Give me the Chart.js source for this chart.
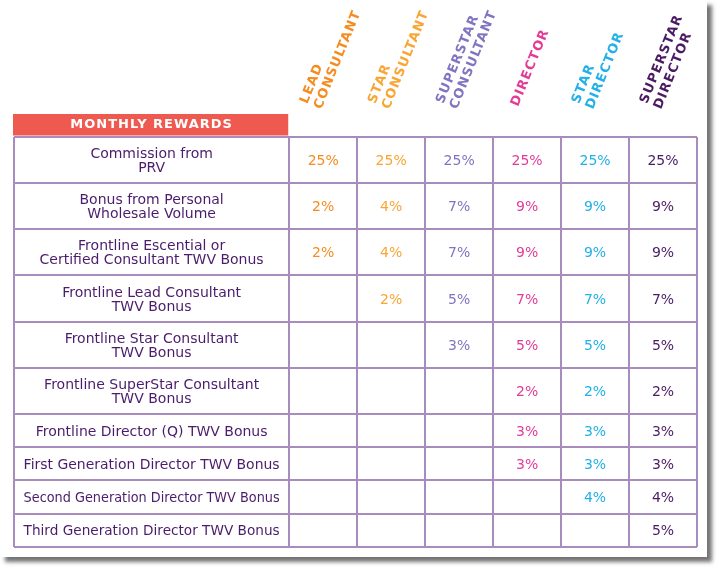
<!DOCTYPE html>
<html>
<head>
<meta charset="utf-8">
<script src="https://cdn.jsdelivr.net/npm/chart.js@4"></script>
<style>
  body { margin: 0; background: #fff; }
  #card { position: absolute; left: 0; top: 0; width: 707px; height: 557px; background: #fff; box-shadow: 5px 5px 4px rgba(0, 0, 0, 0.55); }
  #rewardsChart { position: absolute; left: 0; top: 0; }
</style>
</head>
<body>
<div id="card"></div>
<canvas id="rewardsChart" width="722" height="573"></canvas>
<script>
// Row labels (\n = line break inside the cell)
const rewardRows = [
	'Commission from\nPRV',
	'Bonus from Personal\nWholesale Volume',
	'Frontline Escential or\nCertified Consultant TWV Bonus',
	'Frontline Lead Consultant\nTWV Bonus',
	'Frontline Star Consultant\nTWV Bonus',
	'Frontline SuperStar Consultant\nTWV Bonus',
	'Frontline Director (Q) TWV Bonus',
	'First Generation Director TWV Bonus',
	'Second Generation Director TWV Bonus',
	'Third Generation Director TWV Bonus'
];

// Rank columns
const rankNames = [
	['LEAD', 'CONSULTANT'],
	['STAR', 'CONSULTANT'],
	['SUPERSTAR', 'CONSULTANT'],
	['DIRECTOR'],
	['STAR', 'DIRECTOR'],
	['SUPERSTAR', 'DIRECTOR']
];
const rankColors = ['#f68b1f', '#f9a533', '#8174c0', '#e23c98', '#22b0e6', '#4b1a63'];

// Percent per row, one array per rank (null = empty cell)
const leadConsultant      = [25, 2, 2, null, null, null, null, null, null, null];
const starConsultant      = [25, 4, 4, 2, null, null, null, null, null, null];
const superstarConsultant = [25, 7, 7, 5, 3, null, null, null, null, null];
const director            = [25, 9, 9, 7, 5, 2, 3, 3, null, null];
const starDirector        = [25, 9, 9, 7, 5, 2, 3, 3, 4, null];
const superstarDirector   = [25, 9, 9, 7, 5, 2, 3, 3, 4, 5];

const rankValues = [leadConsultant, starConsultant, superstarConsultant, director, starDirector, superstarDirector];

const titleText = 'MONTHLY REWARDS';
const borderColor = '#a88cbd';
const labelColor = '#4a1c6b';
const labelSpan = 4.05;                               // width of the label column in rank-column units

// row heights follow the number of text lines in the label
const rowHeights = rewardRows.map(r => 20.4 + 12.9 * r.split('\n').length);
const rowEdges = [0];
rowHeights.forEach(h => rowEdges.push(rowEdges[rowEdges.length - 1] + h));
const rowMid = i => (rowEdges[i] + rowEdges[i + 1]) / 2;
const colEdges = [-labelSpan].concat(rankNames.map((n, i) => i), [rankNames.length]);

const tablePlugin = {
	id: 'tableText',
	beforeDraw(chart) {
		const { ctx, chartArea: area, scales: { x } } = chart;
		ctx.save();
		ctx.fillStyle = '#ef5a50';                    // red title bar
		ctx.fillRect(area.left - 1, area.top - 23, x.getPixelForValue(0) - area.left, 21.5);
		ctx.restore();
	},
	afterDatasetsDraw(chart) {
		const { ctx, chartArea: area, scales: { x, y } } = chart;
		ctx.save();

		// cell values
		ctx.font = '14px "DejaVu Sans"';
		ctx.textAlign = 'center';
		ctx.textBaseline = 'alphabetic';
		chart.data.datasets.forEach((ds, i) => {
			ctx.fillStyle = rankColors[i];
			chart.getDatasetMeta(i).data.forEach((pt, j) => {
				ctx.fillText(ds.data[j].v + '%', pt.x, pt.y + 5);
			});
		});

		// row labels
		ctx.fillStyle = labelColor;
		const lx = x.getPixelForValue(-labelSpan / 2);
		rewardRows.forEach((label, r) => {
			const lines = label.split('\n');
			const my = y.getPixelForValue(rowMid(r));
			lines.forEach((line, k) => {
				ctx.fillText(line, lx, my + (k - (lines.length - 1) / 2) * 14 + 5, 256);
			});
		});

		// title in red bar
		ctx.fillStyle = '#fff';
		ctx.font = 'bold 13px "DejaVu Sans"';
		ctx.letterSpacing = '1px';
		ctx.fillText(titleText, lx, area.top - 9);

		// rotated rank headers
		const ang = -68 * Math.PI / 180;
		const ux = -Math.sin(ang), uy = Math.cos(ang);
		ctx.textAlign = 'left';
		rankNames.forEach((lines, c) => {
			const cx = x.getPixelForValue(c + 0.5) - 9;
			const cy = area.top - 30;
			ctx.fillStyle = rankColors[c];
			lines.forEach((line, k) => {
				const off = (k - (lines.length - 1) / 2) * 15;
				ctx.save();
				ctx.translate(cx + off * ux, cy + off * uy);
				ctx.rotate(ang);
				ctx.fillText(line, 0, 0);
				ctx.restore();
			});
		});
		ctx.letterSpacing = '0px';
		ctx.restore();
	}
};

const gridAxis = (edges, extra) => Object.assign({
	type: 'linear',
	afterBuildTicks: s => { s.ticks = edges.map(v => ({ value: v })); },
	ticks: { display: false },
	grid: { color: borderColor, lineWidth: 2, drawTicks: false },
	border: { display: false }
}, extra);

new Chart(document.getElementById('rewardsChart'), {
	type: 'scatter',
	data: {
		datasets: rankValues.map((vals, c) => ({
			label: rankNames[c].join(' '),
			data: vals.map((v, r) => v == null ? null : { x: c + 0.5, y: rowMid(r), v: v }).filter(Boolean),
			pointRadius: 0,
			pointHoverRadius: 0
		}))
	},
	options: {
		responsive: false,
		animation: false,
		events: [],
		layout: { padding: { left: 14, right: 25, top: 137, bottom: 26 } },
		plugins: { legend: { display: false }, tooltip: { enabled: false } },
		scales: {
			x: gridAxis(colEdges, { min: -labelSpan, max: rankNames.length }),
			y: gridAxis(rowEdges, { min: 0, max: rowEdges[rowEdges.length - 1], reverse: true })
		}
	},
	plugins: [tablePlugin]
});
</script>
</body>
</html>
